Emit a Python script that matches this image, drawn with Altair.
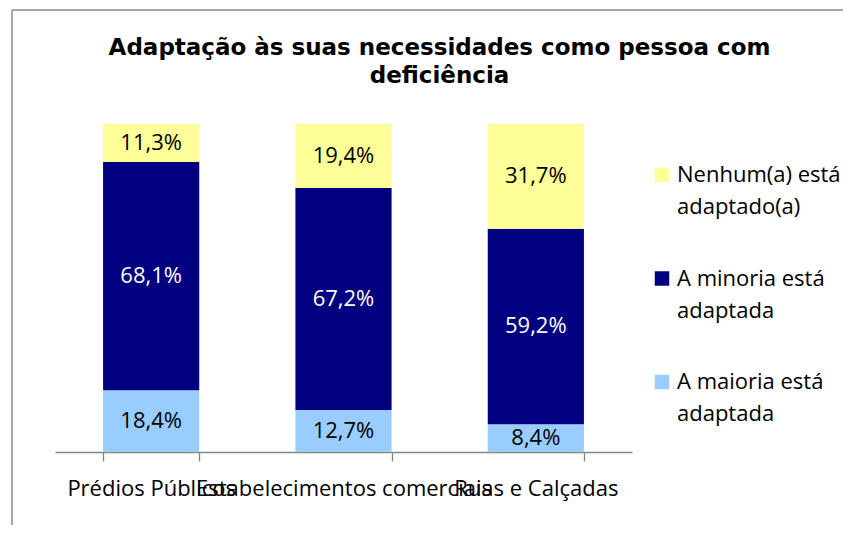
import altair as alt
import pandas as pd

# ---- data ----
categories = ["Prédios Públicos", "Estabelecimentos comerciais", "Ruas e Calçadas"]
series_names = ["A maioria está adaptada", "A minoria está adaptada", "Nenhum(a) está adaptado(a)"]
maioria = [18.4, 12.7, 8.4]
minoria = [68.1, 67.2, 59.2]
nenhum = [11.3, 19.4, 31.7]

title_lines = ["Adaptação às suas necessidades como pessoa com", "deficiência"]

rows = []
for i, cat in enumerate(categories):
    for k, (name, vals) in enumerate(zip(series_names, [maioria, minoria, nenhum])):
        rows.append({"cat": cat, "series": name, "ord": k, "v": vals[i]})
df = pd.DataFrame(rows)

legend_order = [series_names[2], series_names[1], series_names[0]]
color_range = ["#FFFF99", "#000080", "#99CCFF"]

FONT = "Open Sans"
FS = 22

x_enc = alt.X(
    "cat:N",
    sort=categories,
    title=None,
    scale=alt.Scale(paddingInner=0.5, paddingOuter=0.25),
    axis=alt.Axis(
        labelAngle=0,
        labelFont=FONT,
        labelFontSize=FS,
        labelColor="black",
        labelOverlap=False,
        labelLimit=1000,
        labelPadding=17,
        tickBand="extent",
        tickSize=9,
        tickColor="#868686",
        domainColor="#868686",
        domainWidth=1.3,
        tickWidth=1.3,
    ),
)

base = alt.Chart(df)

bars = base.mark_bar().encode(
    x=x_enc,
    y=alt.Y("v:Q", stack="normalize", axis=None,
            scale=alt.Scale(domain=[0, 1], nice=False)),
    color=alt.Color(
        "series:N",
        scale=alt.Scale(domain=legend_order, range=color_range),
        legend=alt.Legend(
            title=None,
            orient="none",
            legendX=596,
            legendY=40,
            padding=0,
            symbolType="square",
            symbolSize=210,
            symbolStrokeWidth=0,
            labelFont=FONT,
            labelFontSize=FS,
            labelColor="black",
            labelOffset=4,
            labelLimit=400,
            rowPadding=49.5,
            labelExpr="[substring(datum.label, 0, lastindexof(datum.label, ' ')), substring(datum.label, lastindexof(datum.label, ' ') + 1)]",
        ),
    ),
    order=alt.Order("ord:Q", sort="ascending"),
)

labels = base.transform_joinaggregate(
    total="sum(v)", groupby=["cat"]
).transform_window(
    cum="sum(v)", groupby=["cat"], sort=[alt.SortField("ord")], frame=[None, 0]
).transform_calculate(
    mid="(datum.cum - datum.v / 2) / datum.total",
    lbl="replace(format(datum.v, '.1f'), '.', ',') + '%'",
).mark_text(font=FONT, fontSize=FS, baseline="middle", align="center").encode(
    x=alt.X("cat:N", sort=categories),
    y=alt.Y("mid:Q"),
    text="lbl:N",
    color=alt.condition(
        alt.datum.series == "A minoria está adaptada", alt.value("white"), alt.value("black")
    ),
)

frame_src = alt.Chart(pd.DataFrame({"a": [0]}))
frame_top = frame_src.mark_rule(color="#8a8a8a", strokeWidth=1.5).encode(
    x=alt.value(-43), x2=alt.value(820), y=alt.value(-114)
)
frame_left = frame_src.mark_rule(color="#8a8a8a", strokeWidth=1.5).encode(
    x=alt.value(-43), y=alt.value(-114), y2=alt.value(420)
)

chart = alt.layer(frame_top, frame_left, bars, labels).properties(
    width=577,
    height=328,
    autosize=alt.AutoSizeParams(type="none"),
    padding={"left": 47, "top": 116, "right": 211, "bottom": 73},
    title=alt.TitleParams(
        text=title_lines,
        font="DejaVu Sans",
        fontSize=23,
        fontWeight="bold",
        color="black",
        anchor="middle",
        dx=96,
        offset=-79,
        lineHeight=28,
    ),
).configure(
    view=alt.ViewConfig(strokeWidth=0),
    style={"guide-label": {"lineHeight": 32}},
)

chart.save("out.html", embed_options={"renderer": "svg", "actions": False})
